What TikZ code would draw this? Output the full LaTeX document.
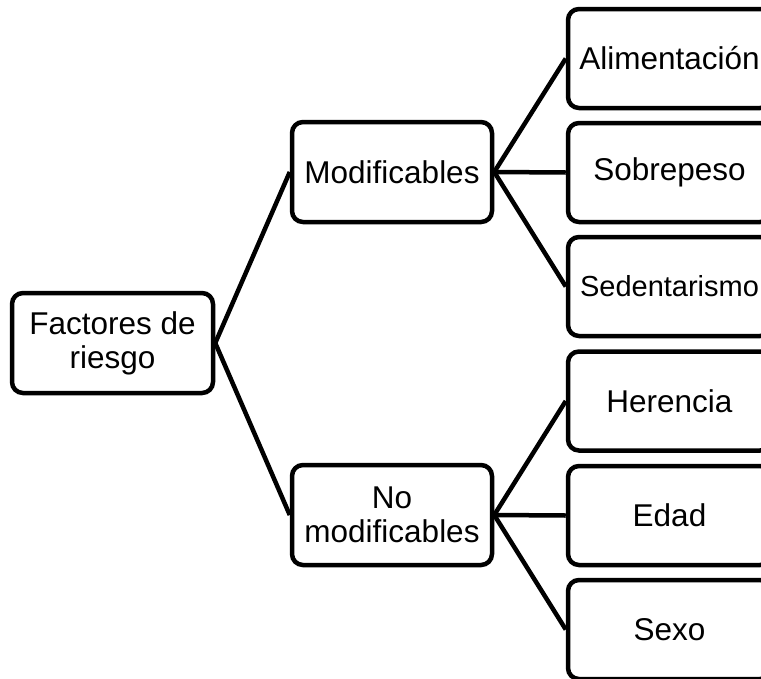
\documentclass[tikz,border=0pt]{standalone}
\usepackage{fontspec}
\setmainfont{Liberation Sans}
\begin{document}
\begin{tikzpicture}[x=1pt,y=-1pt,
  box/.style={draw, line width=4.5pt, rounded corners=11pt, align=center, inner sep=0pt,
    font=\fontsize{31.5}{34}\selectfont},
  midbox/.style={box, minimum width=200pt, minimum height=100pt},
  leafbox/.style={box, minimum width=203pt, minimum height=99pt},
  link/.style={line width=4.5pt}]
\useasboundingbox (0,0) rectangle (761,678);
\clip (0,0) rectangle (761,678);
\node[box, minimum width=201pt, minimum height=100pt] (fac) at (112.5,343) {Factores de\\riesgo};
\node[midbox] (mod) at (392,172) {Modificables};
\node[midbox] (nomod) at (392,515) {No\\modificables};
\node[leafbox] (ali) at (669.5,58.5) {Alimentación};
\node[leafbox] (sob) at (669.5,172.5) {Sobrepeso};
\node[leafbox, font=\fontsize{29}{33}\selectfont] (sed) at (669.5,286.5) {Sedentarismo};
\node[leafbox] (her) at (669.5,401) {Herencia};
\node[leafbox] (eda) at (669.5,515.5) {Edad};
\node[leafbox] (sex) at (669.5,629.5) {Sexo};
\draw[link] (fac.east) -- (mod.west);
\draw[link] (fac.east) -- (nomod.west);
\draw[link] (mod.east) -- (ali.west);
\draw[link] (mod.east) -- (sob.west);
\draw[link] (mod.east) -- (sed.west);
\draw[link] (nomod.east) -- (her.west);
\draw[link] (nomod.east) -- (eda.west);
\draw[link] (nomod.east) -- (sex.west);
\end{tikzpicture}
\end{document}
